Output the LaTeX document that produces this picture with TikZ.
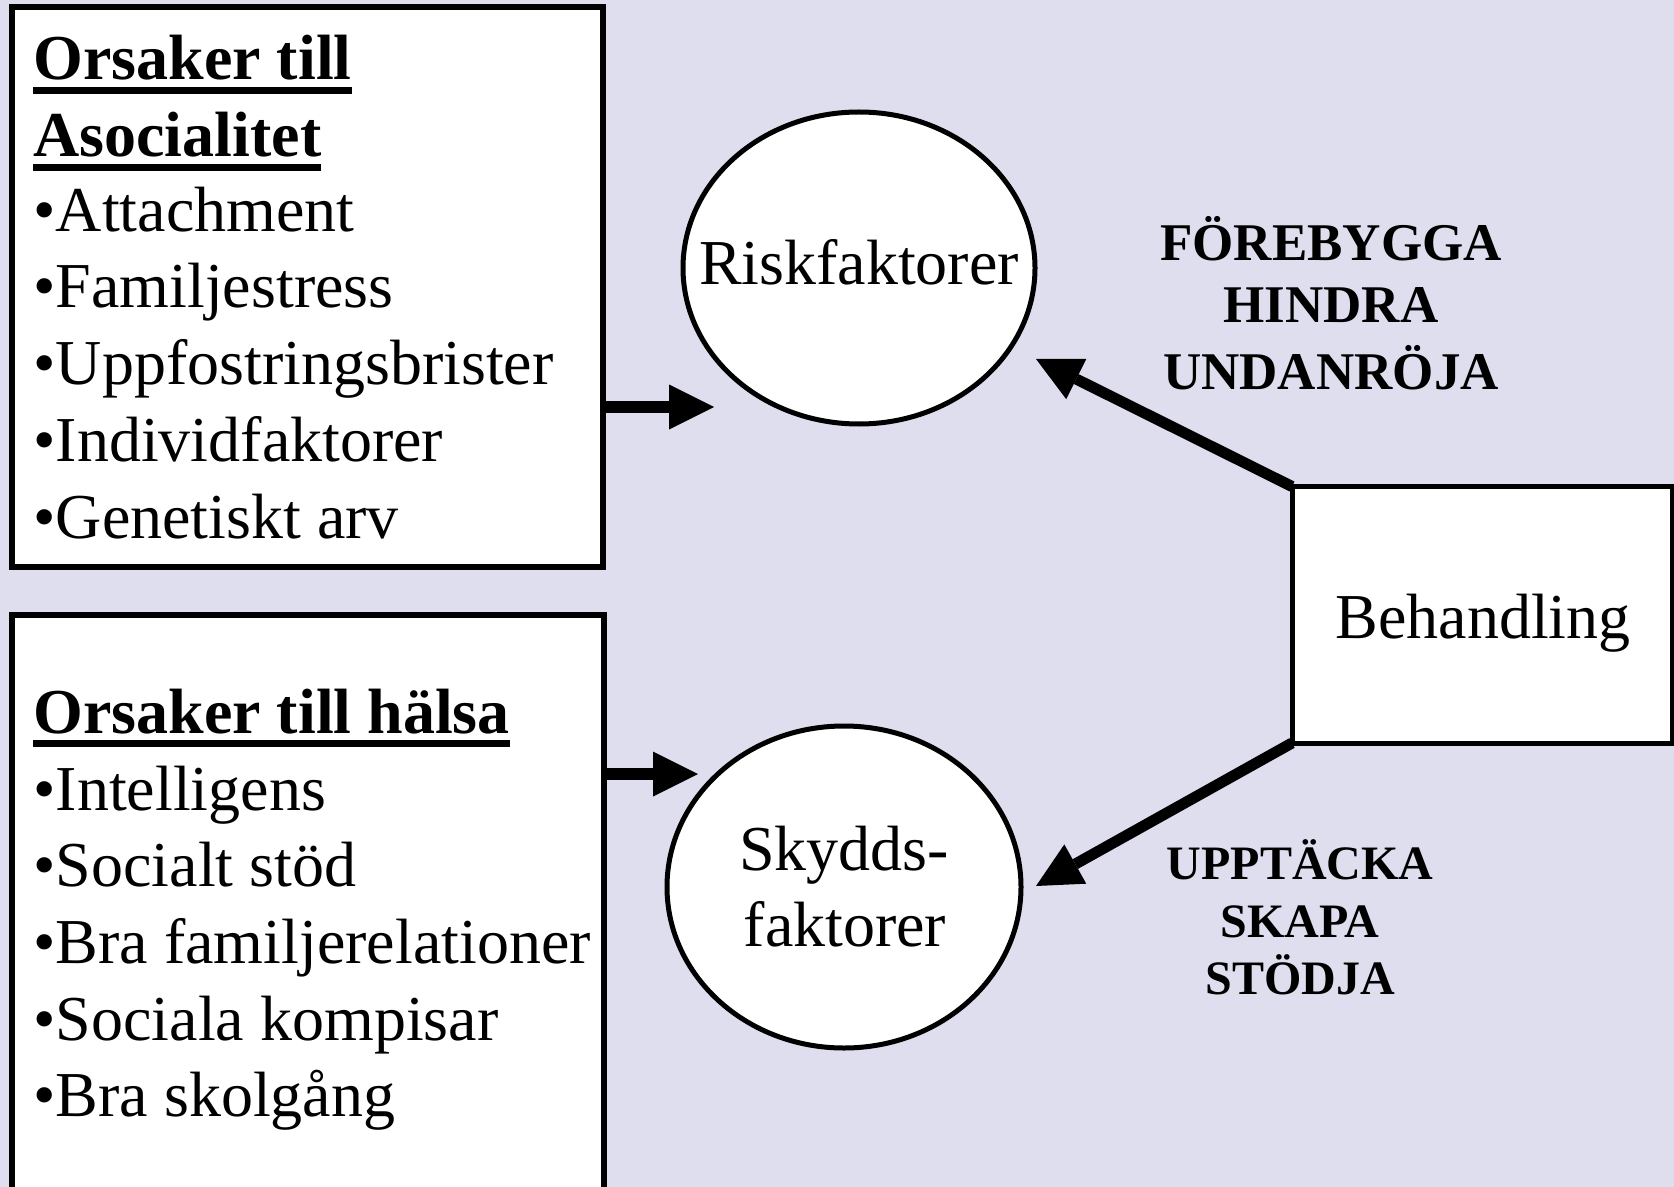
\documentclass[tikz,border=0pt]{standalone}
\usepackage{fontspec}
\setmainfont{Liberation Serif}
\usetikzlibrary{shapes.geometric,arrows.meta}
\definecolor{bg}{RGB}{222,222,238}
\newcommand\myul[1]{\setbox0\hbox{#1}\rlap{\rule[-6.9pt]{\wd0}{3.25pt}}\box0}
\begin{document}
\begin{tikzpicture}[x=0.5pt,y=-0.5pt,
  txt/.style={inner sep=0pt, anchor=base west, font=\fontsize{32pt}{37pt}\selectfont},
  ttl/.style={inner sep=0pt, anchor=base west, font=\fontsize{32pt}{37pt}\selectfont\bfseries},
  ctxt/.style={inner sep=0pt, anchor=base, font=\fontsize{32pt}{37pt}\selectfont},
  labA/.style={inner sep=0pt, anchor=base, font=\fontsize{26.5pt}{30pt}\selectfont\bfseries},
  labB/.style={inner sep=0pt, anchor=base, font=\fontsize{24pt}{28pt}\selectfont\bfseries},
  panel/.style={draw, fill=white, line width=3pt, rectangle, inner sep=0pt, outer sep=0pt, anchor=north west},
  circ/.style={draw, fill=white, line width=2.5pt, ellipse, inner sep=0pt},
  arr/.style={line width=6pt, -{Triangle[length=22.5pt,width=22.5pt,line width=0pt]}},
  ]
\clip (0,0) rectangle (1674,1187);
\fill[bg] (0,0) rectangle (1674,1187);
% boxes
\node[panel, minimum width=295.5pt, minimum height=279.75pt] (b1) at (12,7.5) {};
\node[panel, minimum width=296pt, minimum height=292.5pt] (b2) at (12,615) {};
\node[panel, line width=2.5pt, minimum width=190pt, minimum height=128.25pt] (beh) at (1292,486.5) {};
\node[circ, minimum width=176pt, minimum height=156pt] (risk) at (859,268) {};
\node[circ, minimum width=177pt, minimum height=161pt] (skydd) at (844,887) {};
% box 1 text
\node[ttl] (h1a) at (33,80) {\myul{Orsaker till}};
\node[ttl] (h1b) at (33,157) {\myul{Asocialitet}};
\node[txt] (a1) at (33,232) {•Attachment};
\node[txt] (a2) at (33,308) {•Familjestress};
\node[txt] (a3) at (33,385) {•Uppfostringsbrister};
\node[txt] (a4) at (33,461) {•Individfaktorer};
\node[txt] (a5) at (33,538) {•Genetiskt arv};
% box 2 text
\node[ttl] (h2) at (33,733) {\myul{Orsaker till hälsa}};
\node[txt] (c1) at (33,810) {•Intelligens};
\node[txt] (c2) at (33,886) {•Socialt stöd};
\node[txt] (c3) at (33,963) {•Bra familjerelationer};
\node[txt] (c4) at (33,1040) {•Sociala kompisar};
\node[txt] (c5) at (33,1116) {•Bra skolgång};
% circle / box texts
\node[ctxt] (risktxt) at (859,285) {Riskfaktorer};
\node[ctxt] (sk1) at (844,870) {Skydds-};
\node[ctxt] (sk2) at (845,946) {faktorer};
\node[ctxt] (behtxt) at (1483,638) {Behandling};
% labels
\node[labA] (l1) at (1331,261) {FÖREBYGGA};
\node[labA] (l2) at (1331,322) {HINDRA};
\node[labA] (l3) at (1331,389) {UNDANRÖJA};
\node[labB] (m1) at (1300,879) {UPPTÄCKA};
\node[labB] (m2) at (1300,937) {SKAPA};
\node[labB] (m3) at (1300,994) {STÖDJA};
% arrows
\coordinate (t1) at (714,407);
\coordinate (t2) at (698,774);
\coordinate (t3) at (1036,359);
\coordinate (t4) at (1036,886);
\draw[arr] (b1.east |- t1) -- (t1);
\draw[arr] (b2.east |- t2) -- (t2);
\draw[arr, line width=5.5pt] (beh.north west) -- (t3);
\draw[arr, line width=5.5pt] (beh.south west) -- (t4);
\end{tikzpicture}
\end{document}
